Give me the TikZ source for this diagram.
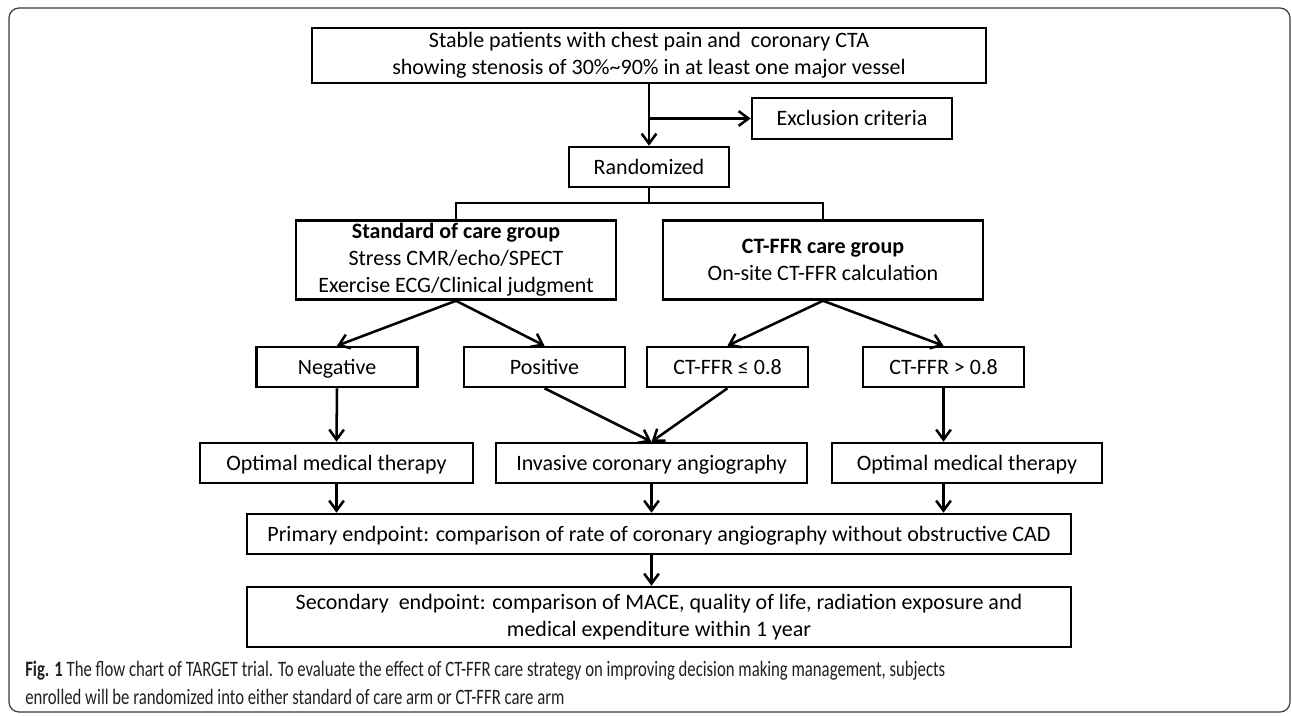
\documentclass[tikz,border=0pt]{standalone}
\usepackage{fontspec}
\setmainfont{Carlito}
\usetikzlibrary{arrows.meta}
\definecolor{ink}{HTML}{231F20}
\definecolor{frame}{HTML}{3A3A3A}

\begin{document}
\begin{tikzpicture}[x=0.75pt,y=-0.75pt,
    box/.style={draw, line width=1.9pt, inner sep=0pt, align=center, minimum height=30pt,
      font=\fontsize{16.5}{20.25}\selectfont},
    cell/.style={box, text height=12.5pt, text depth=2pt},
    ln/.style={line width=1.9pt},
    arr/.style={ln, -{Straight Barb[length=7.5pt,width=11pt,line width=1.9pt]}}]
  \useasboundingbox (0,0) rectangle (1292,715);
  \draw[frame, line width=0.9pt, rounded corners=7.5pt] (9,8) rectangle (1290,712);

  \node[box, minimum width=505.5pt, minimum height=41.25pt] (top) at (649,55.5)
    {Stable patients with chest pain and\ \ coronary CTA\\
     showing stenosis of 30\%\textasciitilde90\% in at least one major vessel};
  \node[cell, minimum width=150pt, minimum height=30.75pt] (excl) at (852,118.5) {Exclusion criteria};
  \node[cell, minimum width=120pt] (rand) at (649,167) {Randomized};

  \node[box, minimum width=240pt, minimum height=59.25pt] (std) at (456,260)
    {\textbf{Standard of care group}\\ Stress CMR/echo/SPECT\\ Exercise ECG/Clinical judgment};
  \node[box, minimum width=240pt, minimum height=59.25pt] (ctffr) at (823,260)
    {\textbf{CT-FFR care group}\\ On-site CT-FFR calculation};

  \node[cell, minimum width=120.75pt] (neg) at (337,367) {Negative};
  \node[cell, minimum width=120.75pt] (pos) at (544.5,367) {Positive};
  \node[cell, minimum width=120.75pt] (ctle) at (727.5,367) {CT-FFR ≤ 0.8};
  \node[cell, minimum width=120.75pt] (ctgt) at (943.5,367) {CT-FFR > 0.8};

  \node[cell, minimum width=204.75pt] (optl) at (336.5,463) {Optimal medical therapy};
  \node[cell, minimum width=233.25pt] (inv) at (651.5,463) {Invasive coronary angiography};
  \node[cell, minimum width=202.5pt] (optr) at (967,463) {Optimal medical therapy};

  \node[cell, minimum width=618pt] (prim) at (659,534)
    {Primary endpoint: comparison of rate of coronary angiography without obstructive CAD};
  \node[box, minimum width=618pt, minimum height=45pt] (sec) at (659,617)
    {Secondary\ \ endpoint: comparison of MACE, quality of life, radiation exposure and\\
     medical expenditure within 1 year};

  \coordinate (split) at (649,203);
  \draw[arr] (top.south) -- (rand.north);
  \draw[arr] (top.south |- excl.west) -- (excl.west);
  \draw[ln] (rand.south) -- (split);
  \draw[ln] (std.north) |- (split) -| (ctffr.north);

  \draw[arr] (std.south) -- (neg.north);
  \draw[arr] (std.south) -- (pos.north);
  \draw[arr] (ctffr.south) -- (ctle.north);
  \draw[arr] (ctffr.south) -- (ctgt.north);

  \draw[arr] (neg.south) -- (optl.north);
  \draw[arr] (pos.south) -- (inv.north);
  \draw[arr] (ctle.south) -- (inv.north);
  \draw[arr] (ctgt.south) -- (ctgt.south |- optr.north);

  \draw[arr] (optl.south) -- (optl.south |- prim.north);
  \draw[arr] (inv.south) -- (inv.south |- prim.north);
  \draw[arr] (optr.south -| ctgt.south) -- (prim.north -| ctgt.south);
  \draw[arr] (prim.south -| inv.south) -- (sec.north -| inv.south);

  \node[anchor=west, inner sep=0pt, text=ink, font=\fontsize{16.5}{21}\selectfont] (cap) at (25,684.5)
    {\resizebox{690pt}{\height}{\begin{tabular}{@{}l@{}}
      \textbf{Fig. 1} The flow chart of TARGET trial. To evaluate the effect of CT-FFR care strategy on improving decision making management, subjects\\
      enrolled will be randomized into either standard of care arm or CT-FFR care arm
    \end{tabular}}};
\end{tikzpicture}
\end{document}
